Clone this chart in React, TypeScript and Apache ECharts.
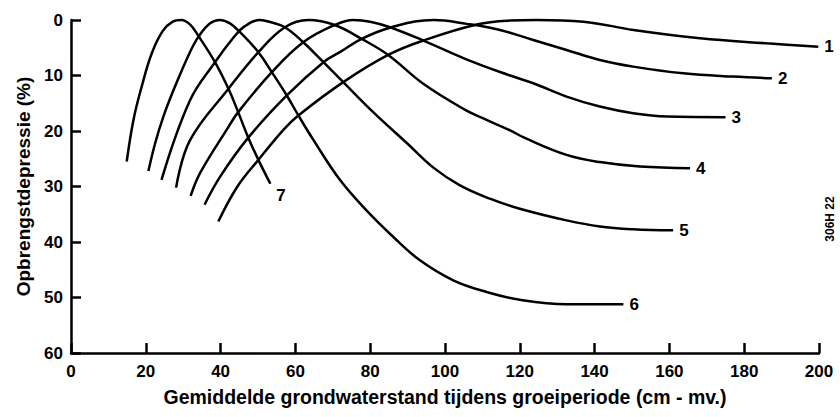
import React, { useEffect, useRef } from "react";
import * as echarts from "echarts";

// Groundwater depth (cm below surface) vs. yield depression (%), per crop curve
const curveNames = ["1", "2", "3", "4", "5", "6", "7"];

const curve1: [number, number][] = [
  [39.4, 36.3], [44.5, 30], [50.1, 25.2], [56.8, 19.8], [60.8, 17.2], [72.8, 11.2],
  [84.8, 6.3], [94.2, 3.7], [108.5, 0.8], [117.4, 0.1], [124.5, 0], [137, 0.3],
  [150.4, 1.8], [168.2, 3.3], [186, 4.2], [199.8, 4.8],
];
const curve2: [number, number][] = [
  [35.7, 33.3], [39.8, 28.3], [47.4, 21.2], [57.7, 13.6], [67.5, 7.6], [71.9, 5.8],
  [77.7, 3.4], [85.7, 1.3], [97, 0], [105.8, 0.7], [114.7, 1.8], [123.6, 3.6],
  [132.5, 5.4], [141.4, 7.2], [150.3, 8.4], [163.7, 9.6], [177, 10.2], [187.4, 10.5],
];
const curve3: [number, number][] = [
  [32, 31.7], [34.5, 27.6], [41.6, 19.8], [44.7, 16.6], [53.7, 9.4], [62.1, 4],
  [70.5, 0.9], [75.5, 0], [80, 0.3], [85.3, 1.3], [94.2, 3.7], [107.6, 7.6],
  [117.4, 10], [123.6, 11.4], [132.5, 13.8], [141.4, 15.6], [150.3, 16.8],
  [159.3, 17.4], [175, 17.5],
];
const curve4: [number, number][] = [
  [28.1, 30.2], [31.8, 21.7], [42.1, 12.4], [50.1, 5.8], [57.2, 1.3], [63.5, 0],
  [70.5, 0.9], [77.7, 3.4], [84.8, 6.3], [94.2, 11.5], [104.9, 16], [111.1, 18],
  [117.4, 19.9], [121.5, 21.3], [132.5, 24.3], [141.4, 25.6], [152.1, 26.4], [165.5, 26.7],
];
const curve5: [number, number][] = [
  [24.2, 28.8], [31.8, 14.5], [38.5, 7.6], [43.4, 3.2], [46.3, 1.2], [50.5, 0],
  [53.5, 0.4], [57.2, 1.3], [62.1, 4], [67.5, 7.6], [72.8, 11.2], [80.8, 16.6],
  [90, 22.3], [96.9, 26.6], [104, 29.8], [112, 32.2], [120, 34], [132.5, 36.1],
  [141.4, 37.2], [150.3, 37.7], [161, 37.9],
];
const curve6: [number, number][] = [
  [20.7, 27.2], [22.5, 22.2], [24.7, 17.4], [27.8, 12], [31.8, 5.8], [34.2, 2.9],
  [37.2, 0.6], [39.8, 0], [42.5, 0.6], [45.2, 2.2], [50.1, 5.8], [53.7, 9.4],
  [57.7, 13.6], [60.8, 17.2], [64.8, 21.6], [71.9, 28.8], [79, 34.3], [86.2, 39.1],
  [93.3, 43.3], [102.2, 46.9], [111.1, 49], [120, 50.4], [132.5, 51.2], [147.7, 51.2],
];
const curve7: [number, number][] = [
  [14.9, 25.5], [16.7, 18], [18.9, 12], [21.6, 6], [24.5, 2], [27.2, 0.3], [29.5, 0],
  [31.8, 0.8], [34, 2.8], [38.5, 7.6], [42.1, 12.4], [44.7, 16.6], [47.4, 21.2],
  [50.1, 25.2], [53.3, 29.5],
];

const xTitle = "Gemiddelde grondwaterstand tijdens groeiperiode (cm - mv.)";
const yTitle = "Opbrengstdepressie (%)";
const figureCode = "306H 22";

const FONT = "'Liberation Sans', Arial, Helvetica, sans-serif";
const INK = "#000";

export default function App() {
  const ref = useRef<HTMLDivElement>(null);

  useEffect(() => {
    if (!ref.current) return;
    const chart = echarts.init(ref.current, null, { renderer: "svg" });
    const curves = [curve1, curve2, curve3, curve4, curve5, curve6, curve7];

    chart.setOption({
      animation: false,
      backgroundColor: "#fff",
      grid: { left: 71, right: 21, top: 20, bottom: 64 },
      xAxis: {
        type: "value",
        min: 0,
        max: 200,
        interval: 20,
        name: xTitle,
        nameLocation: "middle",
        nameGap: 34,
        nameTextStyle: { color: INK, fontSize: 19.5, fontWeight: "bold", fontFamily: FONT },
        axisLine: { onZero: false, lineStyle: { color: INK, width: 2.5 } },
        axisTick: { inside: true, length: 10, lineStyle: { color: INK, width: 2.5 } },
        axisLabel: { color: INK, fontSize: 17, fontWeight: "bold", fontFamily: FONT, margin: 10 },
        splitLine: { show: false },
      },
      yAxis: {
        type: "value",
        inverse: true,
        min: 0,
        max: 60,
        interval: 10,
        name: yTitle,
        nameLocation: "middle",
        nameGap: 38,
        nameRotate: 90,
        nameTextStyle: { color: INK, fontSize: 19, fontWeight: "bold", fontFamily: FONT },
        axisLine: { show: true, onZero: false, lineStyle: { color: INK, width: 2.5 } },
        axisTick: { show: true, inside: true, length: 10, lineStyle: { color: INK, width: 2.5 } },
        axisLabel: { color: INK, fontSize: 17, fontWeight: "bold", fontFamily: FONT, margin: 8 },
        splitLine: { show: false },
      },
      series: curves.map((data, i) => ({
        type: "line",
        name: curveNames[i],
        data,
        smooth: 0.4,
        showSymbol: false,
        clip: false,
        lineStyle: { color: INK, width: 2.5 },
        endLabel: {
          show: true,
          formatter: curveNames[i],
          color: INK,
          fontSize: 17,
          fontWeight: "bold",
          fontFamily: FONT,
          distance: 6,
          offset: curveNames[i] === "7" ? [0, 12] : [0, 0],
        },
      })),
      graphic: [
        {
          type: "text",
          x: 830,
          y: 219,
          rotation: Math.PI / 2,
          style: {
            text: figureCode,
            fill: INK,
            fontSize: 12,
            fontWeight: "bold",
            fontFamily: FONT,
            align: "center",
            verticalAlign: "middle",
          },
        },
      ],
    });

    return () => chart.dispose();
  }, []);

  return (
    <div
      ref={ref}
      style={{ position: "absolute", left: 0, top: 0, width: 840, height: 417, background: "#fff" }}
    />
  );
}
